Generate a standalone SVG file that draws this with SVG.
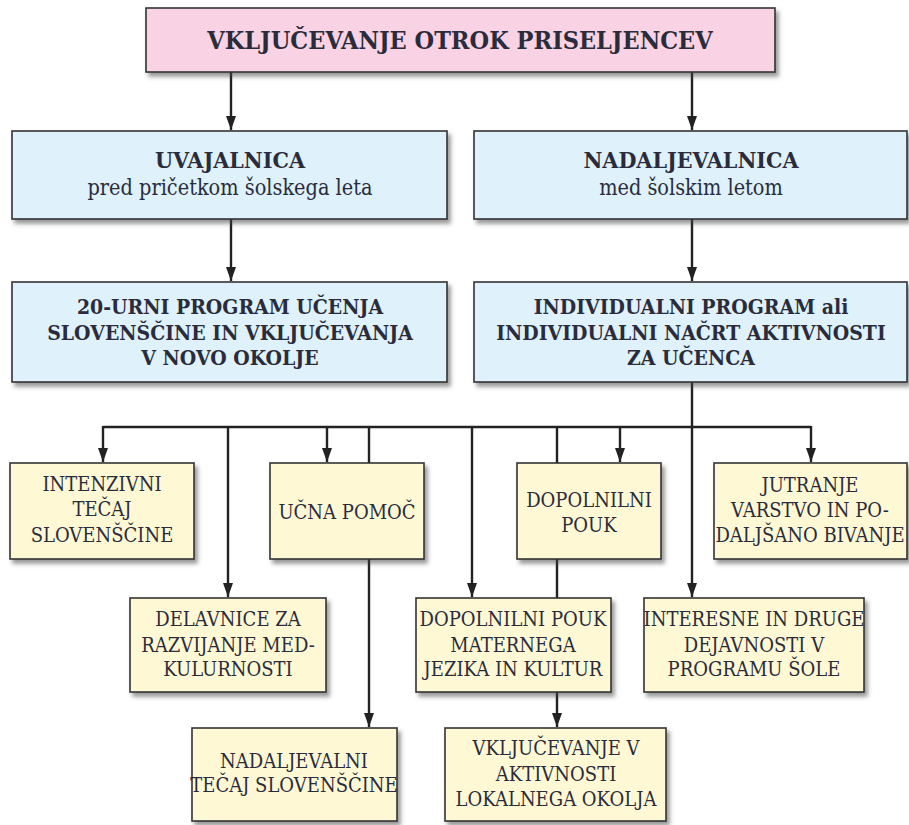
<svg xmlns="http://www.w3.org/2000/svg" width="909" height="825" viewBox="0 0 909 825">
<style>
.box{stroke:#333;stroke-width:1.6;filter:url(#sh)}
.pink{fill:#f9d3e4}
.blue{fill:#dff1fb}
.yel{fill:#fef8d4}
text{font-family:"DejaVu Serif Condensed","DejaVu Serif","Liberation Serif",serif;font-stretch:condensed;fill:#2a2c3c;text-anchor:middle}
.t{font-size:25px;font-weight:bold}
.h{font-size:23px;font-weight:bold}
.s{font-size:21.5px}
.b{font-size:21px;font-weight:bold}
.y{font-size:20px}
.ln{stroke:#222;stroke-width:2.4;fill:none}
</style>
<defs>
<filter id="sh" x="-10%" y="-10%" width="130%" height="140%">
<feDropShadow dx="3" dy="4" stdDeviation="2" flood-color="#444" flood-opacity="0.55"/>
</filter>
<marker id="ar" viewBox="0 0 10 14" refX="5" refY="14" markerWidth="10" markerHeight="14" markerUnits="userSpaceOnUse" orient="0">
<path d="M0,0 L10,0 L5,14 z" fill="#222"/>
</marker>
</defs>
<g id="connectors">
<line class="ln" x1="231" y1="72" x2="231" y2="130" marker-end="url(#ar)"/>
<line class="ln" x1="692" y1="72" x2="692" y2="130" marker-end="url(#ar)"/>
<line class="ln" x1="231" y1="219" x2="231" y2="281" marker-end="url(#ar)"/>
<line class="ln" x1="692" y1="219" x2="692" y2="281" marker-end="url(#ar)"/>
<line class="ln" x1="692" y1="382" x2="692" y2="597" marker-end="url(#ar)"/>
<line class="ln" x1="103" y1="427" x2="811" y2="427"/>
<line class="ln" x1="103" y1="426" x2="103" y2="462" marker-end="url(#ar)"/>
<line class="ln" x1="228" y1="426" x2="228" y2="597" marker-end="url(#ar)"/>
<line class="ln" x1="327" y1="426" x2="327" y2="462" marker-end="url(#ar)"/>
<line class="ln" x1="369" y1="426" x2="369" y2="727" marker-end="url(#ar)"/>
<line class="ln" x1="472" y1="426" x2="472" y2="597" marker-end="url(#ar)"/>
<line class="ln" x1="557" y1="426" x2="557" y2="727" marker-end="url(#ar)"/>
<line class="ln" x1="620" y1="426" x2="620" y2="462" marker-end="url(#ar)"/>
<line class="ln" x1="811" y1="426" x2="811" y2="462" marker-end="url(#ar)"/>
</g>
<g id="n-title">
<rect class="box pink" x="146" y="8" width="629" height="64"/>
<text class="t" x="460" y="49">VKLJUČEVANJE OTROK PRISELJENCEV</text>
</g>
<g id="n-uvajalnica">
<rect class="box blue" x="12" y="131" width="435" height="88"/>
<text class="h" x="230" y="168">UVAJALNICA</text>
<text class="s" x="230" y="195">pred pričetkom šolskega leta</text>
</g>
<g id="n-nadaljevalnica">
<rect class="box blue" x="474" y="131" width="433" height="88"/>
<text class="h" x="691" y="168">NADALJEVALNICA</text>
<text class="s" x="691" y="195">med šolskim letom</text>
</g>
<g id="n-20urni">
<rect class="box blue" x="12" y="282" width="435" height="100"/>
<text class="b" x="230" y="314">20-URNI PROGRAM UČENJA</text>
<text class="b" x="230" y="340">SLOVENŠČINE IN VKLJUČEVANJA</text>
<text class="b" x="230" y="365">V NOVO OKOLJE</text>
</g>
<g id="n-individualni">
<rect class="box blue" x="474" y="282" width="433" height="100"/>
<text class="b" x="691" y="314">INDIVIDUALNI PROGRAM ali</text>
<text class="b" x="691" y="340">INDIVIDUALNI NAČRT AKTIVNOSTI</text>
<text class="b" x="691" y="365">ZA UČENCA</text>
</g>
<g id="n-intenzivni">
<rect class="box yel" x="10" y="463" width="184" height="96"/>
<text class="y" x="102" y="491">INTENZIVNI</text>
<text class="y" x="102" y="516">TEČAJ</text>
<text class="y" x="102" y="542">SLOVENŠČINE</text>
</g>
<g id="n-ucna">
<rect class="box yel" x="270" y="463" width="154" height="96"/>
<text class="y" x="347" y="519">UČNA POMOČ</text>
</g>
<g id="n-dopolnilni">
<rect class="box yel" x="517" y="463" width="144" height="96"/>
<text class="y" x="589" y="507">DOPOLNILNI</text>
<text class="y" x="589" y="532">POUK</text>
</g>
<g id="n-jutranje">
<rect class="box yel" x="714" y="463" width="193" height="96"/>
<text class="y" x="810" y="492">JUTRANJE</text>
<text class="y" x="810" y="517">VARSTVO IN PO-</text>
<text class="y" x="810" y="542">DALJŠANO BIVANJE</text>
</g>
<g id="n-delavnice">
<rect class="box yel" x="130" y="598" width="196" height="94"/>
<text class="y" x="228" y="626">DELAVNICE ZA</text>
<text class="y" x="228" y="652">RAZVIJANJE MED-</text>
<text class="y" x="228" y="676">KULURNOSTI</text>
</g>
<g id="n-materni">
<rect class="box yel" x="416" y="598" width="195" height="94"/>
<text class="y" x="513" y="626">DOPOLNILNI POUK</text>
<text class="y" x="513" y="652">MATERNEGA</text>
<text class="y" x="513" y="676">JEZIKA IN KULTUR</text>
</g>
<g id="n-interesne">
<rect class="box yel" x="644" y="598" width="220" height="94"/>
<text class="y" x="754" y="626">INTERESNE IN DRUGE</text>
<text class="y" x="754" y="652">DEJAVNOSTI V</text>
<text class="y" x="754" y="676">PROGRAMU ŠOLE</text>
</g>
<g id="n-nadaljevalni">
<rect class="box yel" x="192" y="728" width="205" height="93"/>
<text class="y" x="294" y="768">NADALJEVALNI</text>
<text class="y" x="294" y="792">TEČAJ SLOVENŠČINE</text>
</g>
<g id="n-vkljucevanje">
<rect class="box yel" x="445" y="728" width="221" height="93"/>
<text class="y" x="556" y="755">VKLJUČEVANJE V</text>
<text class="y" x="556" y="781">AKTIVNOSTI</text>
<text class="y" x="556" y="806">LOKALNEGA OKOLJA</text>
</g>
</svg>
